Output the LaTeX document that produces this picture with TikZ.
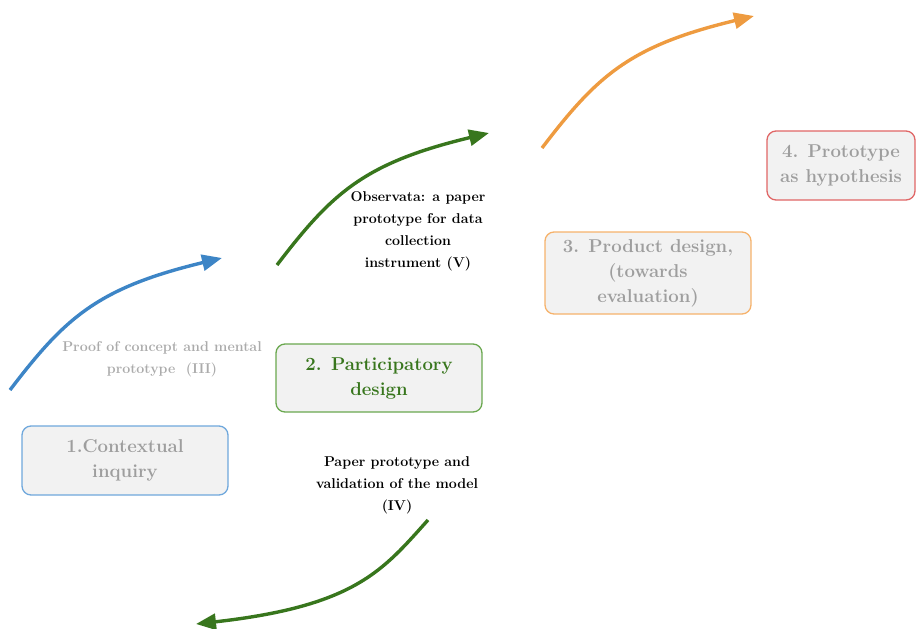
\documentclass[tikz,border=0pt]{standalone}
\usetikzlibrary{arrows.meta}
\definecolor{boxfill}{HTML}{F2F2F2}
\definecolor{boxtext}{HTML}{9E9E9E}
\definecolor{notegray}{HTML}{ABABAB}
\definecolor{cblue}{HTML}{3D85C6}
\definecolor{bblue}{HTML}{6FA8DC}
\definecolor{cgreen}{HTML}{38761D}
\definecolor{bgreen}{HTML}{6AA84F}
\definecolor{corange}{HTML}{EE9B40}
\definecolor{borange}{HTML}{F6B26B}
\definecolor{bred}{HTML}{E06666}
\begin{document}
\begin{tikzpicture}[x=1pt,y=-1pt,
  stage/.style={draw, line width=1.3pt, rounded corners=9pt, fill=boxfill,
    font=\fontsize{18.6}{25}\selectfont\bfseries, text=boxtext, align=center,
    inner sep=0pt},
  note/.style={font=\fontsize{14.2}{22}\selectfont\bfseries, align=center, inner sep=0pt},
  flow/.style={line width=3.4pt, -{Triangle[length=20pt,width=16pt]}}]
\useasboundingbox (0,0) rectangle (916,629);

% stage boxes
\node[stage, draw=bblue, minimum width=206pt, minimum height=69pt] (s1) at (125,460.5) {1.Contextual\\inquiry};
\node[stage, draw=bgreen, text=cgreen, minimum width=206pt, minimum height=68pt] (s2) at (379,378) {2. Participatory\\design};
\node[stage, draw=borange, minimum width=206pt, minimum height=82pt] (s3) at (648,273) {3. Product design,\\(towards\\evaluation)};
\node[stage, draw=bred, minimum width=148pt, minimum height=69pt] (s4) at (841,165.5) {4. Prototype\\as hypothesis};

% annotations
\node[note, text=notegray] (n3) at (162,359) {Proof of concept and mental\\prototype \ (III)};
\node[note, text=black] (n5) at (418,231) {Observata: a paper\\prototype for data\\collection\\instrument (V)};
\node[note, text=black] (n4) at (397,485) {Paper prototype and\\validation of the model\\(IV)};

% arrow end points
\coordinate (a1s) at (10,390);  \coordinate (a1e) at (222,258);
\coordinate (a2s) at (277,265); \coordinate (a2e) at (489,133);
\coordinate (a3s) at (542,148); \coordinate (a3e) at (754,16);
\coordinate (a4s) at (428,520); \coordinate (a4e) at (196,624);

% progress arrows
\draw[flow, cblue]   (a1s) .. controls ++(55,-72) and ++(-125,30) .. (a1e);
\draw[flow, cgreen]  (a2s) .. controls ++(55,-72) and ++(-125,30) .. (a2e);
\draw[flow, corange] (a3s) .. controls ++(55,-72) and ++(-125,30) .. (a3e);
\draw[flow, cgreen]  (a4s) .. controls ++(-45,50) and ++(160,-18) .. (a4e);
\end{tikzpicture}
\end{document}
